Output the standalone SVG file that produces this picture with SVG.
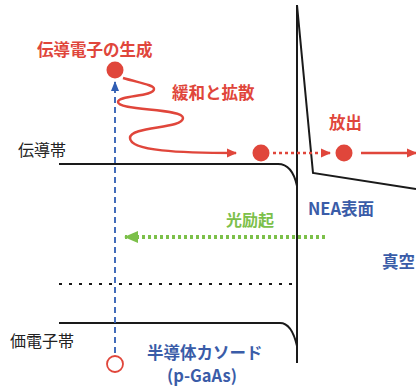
<svg xmlns="http://www.w3.org/2000/svg" width="416" height="392" viewBox="0 0 416 392">
<defs>
<style>
.band{fill:none;stroke:#1a1a1a;stroke-width:2}
.lbl{font-family:"Noto Sans CJK JP","Noto Sans",sans-serif;font-size:16px;fill:#222}
.red{font-family:"Noto Sans CJK JP","Noto Sans",sans-serif;font-size:16.5px;font-weight:bold;fill:#e0463b}
.blue{font-family:"Noto Sans CJK JP","Noto Sans",sans-serif;font-size:16.5px;font-weight:bold;fill:#3a5ca8}
.green{font-family:"Noto Sans CJK JP","Noto Sans",sans-serif;font-size:16px;font-weight:bold;fill:#7cc04a}
</style>
<marker id="ar" markerWidth="10" markerHeight="10" refX="9" refY="5" orient="auto" markerUnits="userSpaceOnUse"><path d="M0,0.5 L10,5 L0,9.5 Z" fill="#e0463b"/></marker>
<marker id="ab" markerWidth="10" markerHeight="10" refX="9" refY="5" orient="auto" markerUnits="userSpaceOnUse"><path d="M0,1 L10,5 L0,9 Z" fill="#2f5db3"/></marker>
<marker id="ag" markerWidth="14" markerHeight="14" refX="13" refY="7" orient="auto" markerUnits="userSpaceOnUse"><path d="M0,1 L14,7 L0,13 Z" fill="#7cc04a"/></marker>
</defs>
<rect width="416" height="392" fill="#fff"/>
<g id="bands">
<path class="band" d="M59,164 H278 C288,164 294,172 297,186"/>
<path class="band" d="M59,323 H280 C289,323 294,333 297,346"/>
<path d="M59,284 H292" fill="none" stroke="#1a1a1a" stroke-width="2" stroke-dasharray="3,7"/>
<path class="band" d="M297,5 V363"/>
<path class="band" d="M297,5 L313,173 L416,189"/>
</g>
<g id="connectors">
<path d="M115,353 V82" fill="none" stroke="#2f5db3" stroke-width="1.8" stroke-dasharray="6,4" marker-end="url(#ab)"/>
<path d="M325,237 H125" fill="none" stroke="#7cc04a" stroke-width="4" stroke-dasharray="3,3" marker-end="url(#ag)"/>
<path d="M123,78 C140,83 154,85 154,89 C154,97 118,95 118,102 C118,111 183,108 183,118 C183,129 130,126 130,138 C130,151 180,153 236,153" fill="none" stroke="#e0463b" stroke-width="2.5" marker-end="url(#ar)"/>
<path d="M273,153 H330" fill="none" stroke="#e0463b" stroke-width="2.5" stroke-dasharray="3,3" marker-end="url(#ar)"/>
<path d="M361,153 H416" fill="none" stroke="#e0463b" stroke-width="2.5" marker-end="url(#ar)"/>
</g>
<g id="electron-gen"><circle cx="115" cy="70" r="8.5" fill="#e0463b"/><text class="red" x="37" y="56">伝導電子の生成</text></g>
<g id="electron-mid"><circle cx="261" cy="153" r="8.5" fill="#e0463b"/></g>
<g id="electron-out"><circle cx="344" cy="153" r="8.5" fill="#e0463b"/><text class="red" x="329" y="129">放出</text></g>
<g id="hole"><circle cx="115" cy="364" r="8" fill="#fff" stroke="#e0463b" stroke-width="1.8"/></g>
<g id="labels">
<text class="red" x="172" y="99">緩和と拡散</text>
<text class="lbl" x="18" y="156">伝導帯</text>
<text class="lbl" x="10" y="347">価電子帯</text>
<text class="green" x="226" y="226">光励起</text>
<text class="blue" x="308" y="215">NEA表面</text>
<text class="blue" x="382" y="268">真空</text>
<text class="blue" x="147" y="359">半導体カソード</text>
<text class="blue" x="167" y="382">(p-GaAs)</text>
</g>
</svg>
